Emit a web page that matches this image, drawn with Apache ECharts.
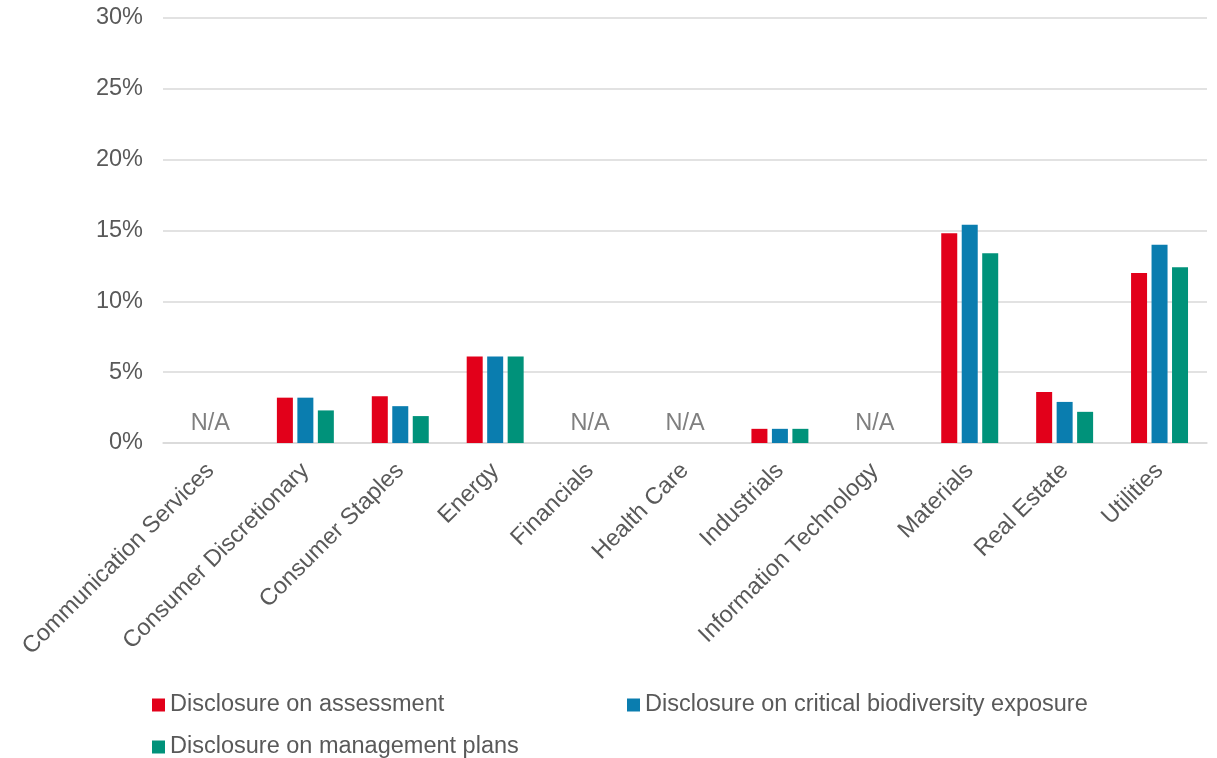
<!DOCTYPE html>
<html>
<head>
<meta charset="utf-8">
<title>Biodiversity disclosure by sector</title>
<script src="https://cdn.jsdelivr.net/npm/echarts@6/dist/echarts.min.js"></script>
<style>
  html, body { margin: 0; padding: 0; background: #ffffff; }
  #chart { width: 1217px; height: 758px; }
</style>
</head>
<body>
<div id="chart"></div>
<script>
// Sectors on the x axis
const categories = [
  'Communication Services', 'Consumer Discretionary', 'Consumer Staples', 'Energy',
  'Financials', 'Health Care', 'Industrials', 'Information Technology',
  'Materials', 'Real Estate', 'Utilities'
];

// Share of companies (%) per sector; null = not applicable
const assessment = [null, 3.2, 3.3, 6.1, null, null, 1.0, null, 14.8, 3.6, 12.0];
const criticalExposure = [null, 3.2, 2.6, 6.1, null, null, 1.0, null, 15.4, 2.9, 14.0];
const managementPlans = [null, 2.3, 1.9, 6.1, null, null, 1.0, null, 13.4, 2.2, 12.4];

const seriesNames = [
  'Disclosure on assessment',
  'Disclosure on critical biodiversity exposure',
  'Disclosure on management plans'
];
const seriesColors = ['#E2001A', '#0A7DAF', '#00927A'];

// y-axis ticks (%)
const yTicks = [0, 5, 10, 15, 20, 25, 30];

const naLabel = 'N/A';
const FONT = 'Liberation Sans, Arial, sans-serif';
const TEXT_COLOR = '#595959';
const FONT_SIZE = 23.5;

// sectors with no data get an "N/A" tag sitting on the baseline
const naPoints = categories
  .filter((c, i) => assessment[i] === null && criticalExposure[i] === null && managementPlans[i] === null)
  .map(c => ({ coord: [c, 0] }));

const chart = echarts.init(document.getElementById('chart'), null, { renderer: 'canvas' });

function barSeries(name, data, color, withNa) {
  const s = {
    name: name,
    type: 'bar',
    data: data,
    barWidth: 16,
    barGap: '28%',
    itemStyle: { color: color },
    emphasis: { disabled: true }
  };
  if (withNa) {
    // attached to the middle series so the tag is centred on the sector
    s.markPoint = {
      symbol: 'rect',
      symbolSize: 0,
      silent: true,
      label: {
        show: true,
        position: 'top',
        distance: 7,
        formatter: naLabel,
        color: '#7F7F7F',
        fontFamily: FONT,
        fontSize: FONT_SIZE
      },
      data: naPoints
    };
  }
  return s;
}

const legendCommon = {
  icon: 'rect',
  itemWidth: 13,
  itemHeight: 13,
  itemGap: 0,
  textStyle: { fontFamily: FONT, fontSize: FONT_SIZE, color: TEXT_COLOR, padding: [0, 0, 0, 0] },
  selectedMode: false
};

chart.setOption({
  animation: false,
  backgroundColor: '#ffffff',
  grid: { left: 163, right: 10, top: 18, bottom: 315, containLabel: false },
  legend: [
    Object.assign({}, legendCommon, { data: [seriesNames[0]], left: 147, top: 688 }),
    Object.assign({}, legendCommon, { data: [seriesNames[1]], left: 622, top: 688 }),
    Object.assign({}, legendCommon, { data: [seriesNames[2]], left: 147, top: 730 })
  ],
  xAxis: {
    type: 'category',
    data: categories,
    axisLine: { show: true, lineStyle: { color: '#D9D9D9', width: 1.5 } },
    axisTick: { show: false },
    axisLabel: {
      interval: 0,
      rotate: 45,
      margin: 24,
      color: TEXT_COLOR,
      fontFamily: FONT,
      fontSize: FONT_SIZE
    }
  },
  yAxis: {
    type: 'value',
    min: yTicks[0],
    max: yTicks[yTicks.length - 1],
    interval: yTicks[1] - yTicks[0],
    axisLine: { show: false },
    axisTick: { show: false },
    splitLine: { lineStyle: { color: '#D9D9D9', width: 1.5 } },
    axisLabel: {
      margin: 20,
      padding: [3, 0, 0, 0],
      color: TEXT_COLOR,
      fontFamily: FONT,
      fontSize: FONT_SIZE,
      formatter: v => v + '%'
    }
  },
  series: [
    barSeries(seriesNames[0], assessment, seriesColors[0], false),
    barSeries(seriesNames[1], criticalExposure, seriesColors[1], true),
    barSeries(seriesNames[2], managementPlans, seriesColors[2], false)
  ]
});
</script>
</body>
</html>
